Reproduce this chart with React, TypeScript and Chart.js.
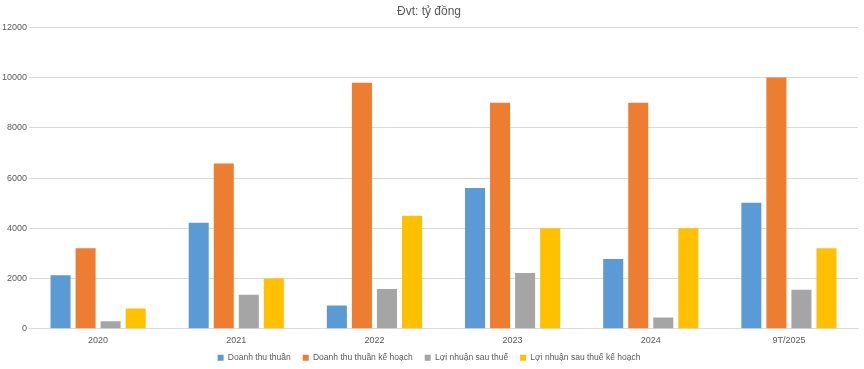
import React, { useEffect, useRef } from "react";
import { Chart, registerables } from "chart.js";

Chart.register(...registerables);

const categories = ["2020", "2021", "2022", "2023", "2024", "9T/2025"];
const doanhThuThuan = [2130, 4220, 920, 5600, 2780, 5020];
const doanhThuKeHoach = [3200, 6580, 9800, 9000, 9000, 10000];
const loiNhuanSauThue = [300, 1350, 1580, 2220, 450, 1550];
const loiNhuanKeHoach = [800, 2000, 4500, 4000, 4000, 3200];
const seriesNames = [
  "Doanh thu thuần",
  "Doanh thu thuần kế hoạch",
  "Lợi nhuận sau thuế",
  "Lợi nhuận sau thuế kế hoạch",
];
const colors = ["#5B9BD5", "#ED7D31", "#A5A5A5", "#FFC000"];

export default function App() {
  const ref = useRef<HTMLCanvasElement>(null);
  useEffect(() => {
    document.body.style.margin = "0";
    const font = "'Liberation Sans', Arial, sans-serif";
    const values = [doanhThuThuan, doanhThuKeHoach, loiNhuanSauThue, loiNhuanKeHoach];
    const chart = new Chart(ref.current!, {
      type: "bar",
      data: {
        labels: categories,
        datasets: values.map((v, i) => ({
          label: seriesNames[i],
          data: v,
          backgroundColor: colors[i],
          borderWidth: 0,
          categoryPercentage: 0.725,
          barPercentage: 0.8,
        })),
      },
      options: {
        animation: false,
        responsive: false,
        maintainAspectRatio: false,
        layout: { padding: { left: 0, right: 6, top: 0, bottom: 0 } },
        plugins: {
          title: {
            display: true,
            text: "Đvt: tỷ đồng",
            color: "#595959",
            font: { family: font, size: 12, weight: "normal" },
            padding: { top: 4, bottom: 9 },
          },
          legend: {
            position: "bottom",
            labels: {
              boxWidth: 6,
              boxHeight: 6,
              padding: 12,
              color: "#595959",
              font: { family: font, size: 8.5 },
            },
          },
          tooltip: { enabled: false },
        },
        scales: {
          x: {
            grid: { display: false, drawTicks: false },
            border: { display: true, color: "#D9D9D9" },
            ticks: { color: "#595959", font: { family: font, size: 9 }, padding: 6 },
            afterFit: (scale: any) => {
              scale.height = scale.height - 10;
              scale._computeLabelArea = () => undefined;
            },
          },
          y: {
            min: 0,
            max: 12000,
            grid: { color: "#D9D9D9", drawTicks: false },
            border: { display: false },
            ticks: {
              stepSize: 2000,
              color: "#595959",
              font: { family: font, size: 9 },
              padding: 2,
              callback: (v: any) => String(v),
            },
          },
        },
      },
    });
    const lg: any = chart.legend;
    if (lg) {
      const origFit = lg.fit.bind(lg);
      lg.fit = function () {
        origFit();
        this.height = this.height - 3;
      };
      chart.update();
    }
    return () => chart.destroy();
  }, []);
  return (
    <div style={{ width: 864, height: 369 }}>
      <canvas ref={ref} width={864} height={369} />
    </div>
  );
}
